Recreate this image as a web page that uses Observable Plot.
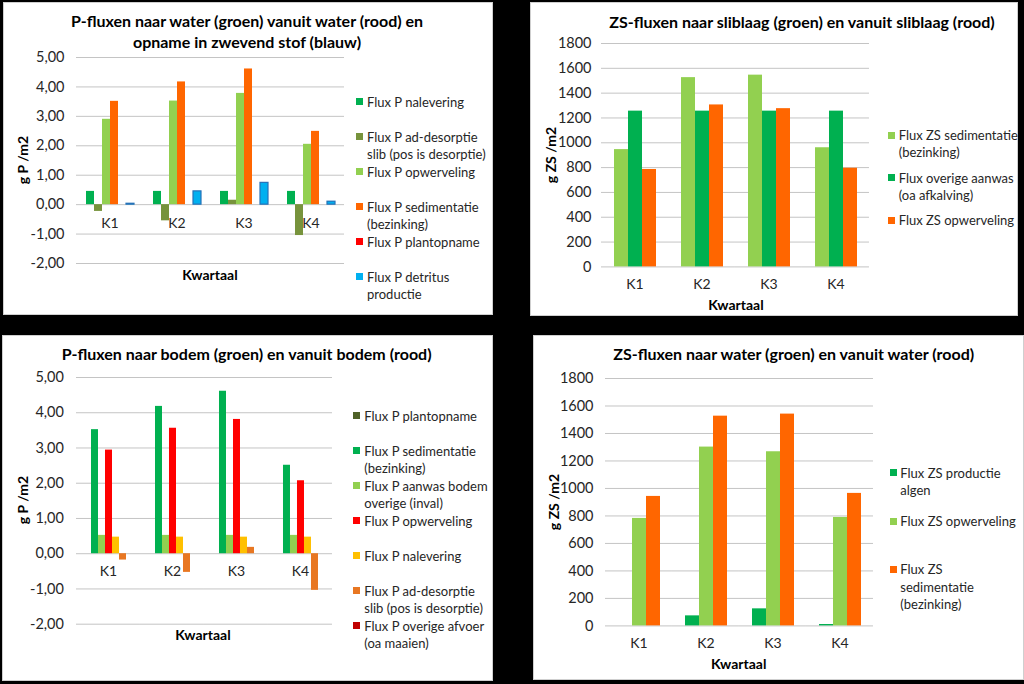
<!DOCTYPE html>
<html>
<head>
<meta charset="utf-8">
<script src="https://cdn.jsdelivr.net/npm/d3@7"></script>
<script src="https://cdn.jsdelivr.net/npm/@observablehq/plot@0.6"></script>
<style>
  html, body { margin: 0; padding: 0; background: #000; }
  #page { position: relative; width: 1024px; height: 684px; background: #000; overflow: hidden; font-family: Lato, "Open Sans", sans-serif; color: #262626; }
  .panel { position: absolute; background: #fff; border: 1px solid #cfcfcf; box-sizing: border-box; }
  .t { position: absolute; white-space: nowrap; transform: translate(-50%, -50%); line-height: 1; }
  .lg { position: absolute; white-space: nowrap; transform: translateY(-50%); line-height: 1; font-size: 13px; color: #262626; }
  .sq { position: absolute; width: 7px; height: 7px; }
  svg { position: absolute; overflow: visible; }
</style>
</head>
<body>
<div id="page"></div>
<script>
// ---------- shared ----------
const quarters = ["K1", "K2", "K3", "K4"];
const pTicks = [-2, -1, 0, 1, 2, 3, 4, 5];
const zsTicks = [0, 200, 400, 600, 800, 1000, 1200, 1400, 1600, 1800];

// ---------- panel A: P-fluxen naar water ----------
const aTitle = ["P-fluxen naar water (groen) vanuit water (rood) en", "opname in zwevend stof (blauw)"];
const aSeries = ["Flux P nalevering", "Flux P ad-desorptie\nslib (pos is desorptie)", "Flux P opwerveling", "Flux P sedimentatie\n(bezinking)", "Flux P plantopname", "Flux P detritus\nproductie"];
const aColors = ["#00B050", "#77933C", "#92D050", "#FF6600", "#FF0000", "#00B0F0"];
const aNalevering = [0.45, 0.45, 0.45, 0.45];
const aAdDesorptie = [-0.23, -0.55, 0.15, -1.05];
const aOpwerveling = [2.90, 3.52, 3.78, 2.05];
const aSedimentatie = [3.51, 4.17, 4.61, 2.49];
const aPlantopname = [0, 0, 0, 0];
const aDetritus = [0.03, 0.45, 0.74, 0.10];

// ---------- panel B: ZS-fluxen naar sliblaag ----------
const bTitle = ["ZS-fluxen naar sliblaag (groen) en vanuit sliblaag (rood)"];
const bSeries = ["Flux ZS sedimentatie\n(bezinking)", "Flux overige aanwas\n(oa afkalving)", "Flux ZS opwerveling"];
const bColors = ["#92D050", "#00B050", "#FF6600"];
const bSedimentatie = [945, 1525, 1545, 960];
const bOverigeAanwas = [1255, 1255, 1255, 1255];
const bOpwerveling = [785, 1305, 1275, 795];

// ---------- panel C: P-fluxen naar bodem ----------
const cTitle = ["P-fluxen naar bodem (groen) en vanuit bodem (rood)"];
const cSeries = ["Flux P plantopname", "Flux P sedimentatie\n(bezinking)", "Flux P aanwas bodem\noverige (inval)", "Flux P opwerveling", "Flux P nalevering", "Flux P ad-desorptie\nslib (pos is desorptie)", "Flux P overige afvoer\n(oa maaien)"];
const cColors = ["#4F6228", "#00B050", "#92D050", "#FF0000", "#FFC000", "#E87722", "#C00000"];
const cPlantopname = [0, 0, 0, 0];
const cSedimentatie = [3.52, 4.18, 4.61, 2.51];
const cAanwas = [0.52, 0.52, 0.52, 0.52];
const cOpwerveling = [2.94, 3.56, 3.81, 2.07];
const cNalevering = [0.47, 0.47, 0.47, 0.47];
const cAdDesorptie = [-0.18, -0.53, 0.18, -1.04];
const cAfvoer = [0, 0, 0, 0];

// ---------- panel D: ZS-fluxen naar water ----------
const dTitle = ["ZS-fluxen naar water (groen) en vanuit water (rood)"];
const dSeries = ["Flux ZS productie\nalgen", "Flux ZS opwerveling", "Flux ZS\nsedimentatie\n(bezinking)"];
const dColors = ["#00B050", "#92D050", "#FF6600"];
const dAlgen = [0, 73, 124, 10];
const dOpwerveling = [782, 1301, 1267, 789];
const dSedimentatie = [942, 1526, 1541, 964];

const yLabelP = "g P /m2";
const yLabelZS = "g ZS /m2";
const xLabel = "Kwartaal";

const page = document.getElementById("page");

function panel(l, t, w, h) {
  const d = document.createElement("div");
  d.className = "panel";
  Object.assign(d.style, {left: l + "px", top: t + "px", width: w + "px", height: h + "px"});
  page.appendChild(d);
}
function label(text, cx, cy, css) {
  const d = document.createElement("div");
  d.className = "t";
  d.textContent = text;
  Object.assign(d.style, {left: cx + "px", top: cy + "px"}, css || {});
  page.appendChild(d);
  return d;
}
function legend(series, colors, sqX, txX, y0, step, lh) {
  series.forEach((s, i) => {
    const y = y0 + i * step;
    const sq = document.createElement("div");
    sq.className = "sq";
    Object.assign(sq.style, {left: sqX + "px", top: (y - 3.5) + "px", background: colors[i]});
    page.appendChild(sq);
    s.split("\n").forEach((line, j) => {
      const d = document.createElement("div");
      d.className = "lg";
      d.textContent = line;
      Object.assign(d.style, {left: txX + "px", top: (y + j * lh) + "px"});
      page.appendChild(d);
    });
  });
}
const fmtP = d => d3.format(".2f")(d).replace("\u2212", "-").replace(".", ",");
const fmtZS = d => String(d);

function chart({series, colors, values, domain, ticks, fmt, x0, x1, y0, y1, pad, tickPad, labelDy, outlined}) {
  const data = series.flatMap((s, i) => quarters.map((q, j) => ({q, s, v: values[i][j]})));
  const mL = 70, mT = 10, mR = 5, mB = 30;
  const svg = Plot.plot({
    width: (x1 - x0) + mL + mR,
    height: (y1 - y0) + mT + mB,
    marginLeft: mL, marginTop: mT, marginRight: mR, marginBottom: mB,
    style: {fontFamily: "Lato", fontSize: "14px", color: "#262626", background: "transparent", overflow: "visible"},
    fx: {domain: quarters, padding: 0, axis: null, label: null},
    x: {domain: series, paddingInner: 0, paddingOuter: pad, axis: null, label: null},
    y: {domain, label: null},
    color: {domain: series, range: colors},
    marks: [
      Plot.ruleY(ticks, {stroke: "#c4c4c4", strokeWidth: 1}),
      Plot.barY(data, {fx: "q", x: "s", y1: 0, y2: "v", fill: "s"}),
      Plot.barY(data.filter(d => (outlined || []).includes(d.s)), {fx: "q", x: "s", y1: 0, y2: "v", fill: "s", stroke: "#2672B8", strokeWidth: 1.2}),
      Plot.axisY(ticks, {tickSize: 0, tickPadding: tickPad, tickFormat: fmt, line: true, stroke: "#9a9a9a", fill: "#262626", fontSize: 14.5, label: null}),
      Plot.text(quarters, {fx: d => d, y: d => 0, text: d => d, dy: labelDy, fontSize: 14, fill: "#262626"})
    ]
  });
  svg.style.left = (x0 - mL) + "px";
  svg.style.top = (y0 - mT) + "px";
  page.appendChild(svg);
}

// panels (white boxes)
panel(3, 2, 490, 313);
panel(530, 2, 488, 314);
panel(2, 335, 491, 346);
panel(533, 335, 491, 345);

const titleCss = {fontWeight: "bold", fontSize: "16px", color: "#000"};
const axisCss = {fontWeight: "bold", fontSize: "14px", color: "#000"};

// ---- A ----
label(aTitle[0], 247, 21, titleCss);
label(aTitle[1], 247, 42, titleCss);
chart({series: aSeries, colors: aColors,
  values: [aNalevering, aAdDesorptie, aOpwerveling, aSedimentatie, aPlantopname, aDetritus],
  domain: [-2, 5], ticks: pTicks, fmt: fmtP, x0: 75, x1: 345, y0: 57.3, y1: 263.3,
  pad: 0.75, tickPad: 12, labelDy: 19, outlined: [aSeries[5]]});
label(yLabelP, 23, 160, Object.assign({transform: "translate(-50%,-50%) rotate(-90deg)"}, axisCss));
label(xLabel, 210, 275, axisCss);
legend(aSeries, aColors, 356, 367, 101.7, 35, 17.3);

// ---- B ----
label(bTitle[0], 802, 21.7, titleCss);
chart({series: bSeries, colors: bColors,
  values: [bSedimentatie, bOverigeAanwas, bOpwerveling],
  domain: [0, 1800], ticks: zsTicks, fmt: fmtZS, x0: 600.3, x1: 870.3, y0: 43.3, y1: 266.7,
  pad: 0.75, tickPad: 10, labelDy: 18});
label(yLabelZS, 551, 155, Object.assign({transform: "translate(-50%,-50%) rotate(-90deg)"}, axisCss));
label(xLabel, 736, 305, axisCss);
legend(bSeries, bColors, 888, 898.7, 135, 42.5, 17.3);

// ---- C ----
label(cTitle[0], 246.7, 354, titleCss);
chart({series: cSeries, colors: cColors,
  values: [cPlantopname, cSedimentatie, cAanwas, cOpwerveling, cNalevering, cAdDesorptie, cAfvoer],
  domain: [-2, 5], ticks: pTicks, fmt: fmtP, x0: 74.3, x1: 333.5, y0: 377.3, y1: 624,
  pad: 0.88, tickPad: 12.6, labelDy: 18});
label(yLabelP, 23, 500, Object.assign({transform: "translate(-50%,-50%) rotate(-90deg)"}, axisCss));
label(xLabel, 203, 635, axisCss);
legend(cSeries, cColors, 353, 364.3, 415.7, 35, 17.3);

// ---- D ----
label(dTitle[0], 793.7, 354.3, titleCss);
chart({series: dSeries, colors: dColors,
  values: [dAlgen, dOpwerveling, dSedimentatie],
  domain: [0, 1800], ticks: zsTicks, fmt: fmtZS, x0: 604.7, x1: 873, y0: 378.3, y1: 625.7,
  pad: 0.78, tickPad: 12, labelDy: 18});
label(yLabelZS, 553.7, 502, Object.assign({transform: "translate(-50%,-50%) rotate(-90deg)"}, axisCss));
label(xLabel, 738.7, 664, axisCss);
legend(dSeries, dColors, 890.3, 900.3, 472.7, 48.3, 17.2);
</script>
</body>
</html>
